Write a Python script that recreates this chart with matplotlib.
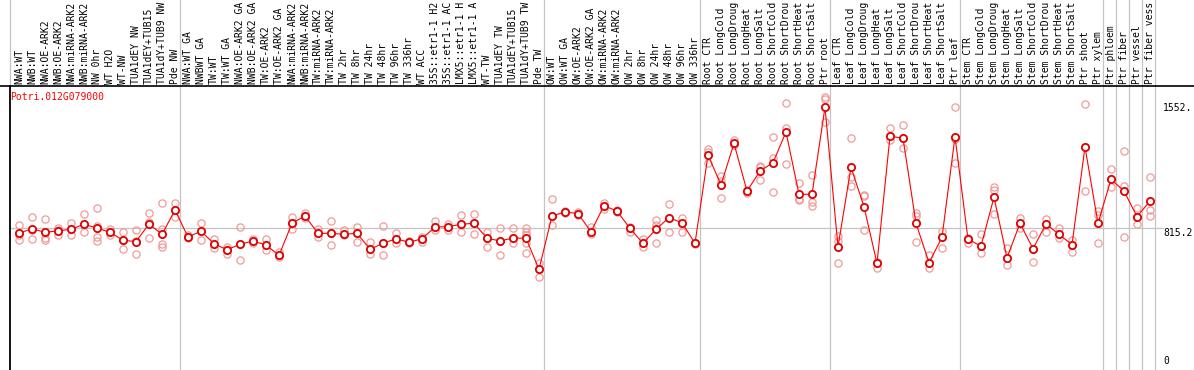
import matplotlib
matplotlib.use('Agg')
import matplotlib.pyplot as plt
from matplotlib.transforms import blended_transform_factory
from matplotlib.lines import Line2D

gene = "Potri.012G079000"

# labels as shown in the chart (truncated to 14 characters)
categories = [
    "NWA:WT", "NWB:WT", "NWA:OE-ARK2", "NWB:OE-ARK2", "NWA:miRNA-ARK2", "NWB:miRNA-ARK2",
    "NW 0hr", "WT H2O", "WT-NW", "TUA1dEY NW", "TUA1dEY+TUB15", "TUA1dY+TUB9 NW", "Pde NW",
    "NWA:WT GA", "NWBWT GA", "TW:WT", "TW:WT GA", "NWA:OE-ARK2 GA", "NWB:OE-ARK2 GA",
    "TW:OE-ARK2", "TW:OE-ARK2 GA", "NWA:miRNA-ARK2", "NWB:miRNA-ARK2", "TW:miRNA-ARK2",
    "TW:miRNA-ARK2", "TW 2hr", "TW 8hr", "TW 24hr", "TW 48hr", "TW 96hr", "TW 336hr",
    "WT ACC", "35S::etr1-1 H2", "35S::etr1-1 AC", "LMX5::etr1-1 H", "LMX5::etr1-1 A",
    "WT-TW", "TUA1dEY TW", "TUA1dEY+TUB15", "TUA1dY+TUB9 TW", "Pde TW",
    "OW:WT", "OW:WT GA", "OW:OE-ARK2", "OW:OE-ARK2 GA", "OW:miRNA-ARK2", "OW:miRNA-ARK2",
    "OW 2hr", "OW 8hr", "OW 24hr", "OW 48hr", "OW 96hr", "OW 336hr",
    "Root CTR", "Root LongCold", "Root LongDroug", "Root LongHeat", "Root LongSalt",
    "Root ShortCold", "Root ShortDrou", "Root ShortHeat", "Root ShortSalt", "Ptr root",
    "Leaf CTR", "Leaf LongCold", "Leaf LongDroug", "Leaf LongHeat", "Leaf LongSalt",
    "Leaf ShortCold", "Leaf ShortDrou", "Leaf ShortHeat", "Leaf ShortSalt", "Ptr leaf",
    "Stem CTR", "Stem LongCold", "Stem LongDroug", "Stem LongHeat", "Stem LongSalt",
    "Stem ShortCold", "Stem ShortDrou", "Stem ShortHeat", "Stem ShortSalt", "Ptr shoot",
    "Ptr xylem", "Ptr phloem", "Ptr fiber", "Ptr vessel", "Ptr fiber vess",
]

means = [
    782, 809, 788, 796, 806, 835, 813, 788, 741, 733, 837, 776, 919,
    760, 794, 721, 685, 717, 737, 713, 652, 841, 884, 782, 782, 776, 782, 688, 723, 750,
    729, 750, 819, 821, 835, 841, 753, 737, 754, 753, 570,
    884, 908, 898, 791, 945, 913, 811, 723, 806, 874, 844, 723,
    1243, 1067, 1312, 1031, 1149, 1198, 1379, 1012, 1012, 1525,
    703, 1171, 939, 605, 1355, 1342, 841, 609, 758, 1351,
    747, 707, 994, 638, 841, 691, 837, 776, 715, 1291, 841,
    1100, 1031, 880, 972,
]

replicates = [
    [831, 772, 743], [878, 799, 750], [864, 753, 743], [815, 801, 772], [841, 806, 772],
    [894, 835, 788], [931, 825, 762, 738], [806, 788, 772], [791, 743, 688], [803, 734, 660],
    [903, 850, 753], [962, 806, 719, 703], [962, 919, 876],
    [772, 760, 753], [844, 794, 743], [747, 721, 694], [703, 685, 660], [821, 717, 625],
    [747, 737, 723], [747, 713, 684], [674, 652, 644], [876, 841, 806], [900, 884, 872],
    [806, 782, 762], [853, 782, 711], [801, 776, 772], [817, 782, 729], [733, 688, 660],
    [825, 723, 654], [782, 750, 723], [738, 729, 723], [762, 750, 733], [856, 819, 801],
    [835, 821, 801], [890, 835, 791], [896, 841, 778], [791, 753, 699], [811, 737, 654],
    [811, 754, 723], [811, 791, 772, 723, 664], [605, 570, 526],
    [982, 884, 831], [915, 908, 900], [909, 898, 890], [821, 791, 778], [961, 945, 925],
    [919, 913, 908], [821, 811, 791], [747, 723, 703], [860, 831, 727], [953, 874, 788],
    [870, 844, 791], [727, 723, 717],
    [1277, 1263, 1198], [1120, 1092, 988], [1332, 1312, 1302], [1037, 1031, 1021],
    [1179, 1173, 1096], [1348, 1226, 1024], [1548, 1401, 1190], [1077, 982, 978],
    [1126, 968, 943], [1587, 1572, 1440],
    [766, 737, 609], [1342, 1116, 1061], [1010, 1000, 801], [615, 605, 576],
    [1401, 1355, 1332], [1420, 1342, 1283], [903, 884, 729], [654, 609, 576],
    [797, 758, 694], [1525, 1337, 1195],
    [753, 747, 727], [778, 707, 668], [1053, 1037, 894], [694, 638, 595], [874, 837, 812],
    [778, 691, 615], [864, 837, 791], [815, 776, 753], [743, 715, 674], [1544, 1291, 1031],
    [913, 890, 727],
    [1159, 1100, 1053], [1267, 1061, 762], [929, 880, 837], [1116, 919, 884],
]

# index of the last category of each group (separator drawn after it)
group_ends = [12, 40, 52, 62, 72, 83, 84, 85, 86, 87]

ytick_values = [1552, 815.2, 0]
ytick_labels = ["1552.", "815.2", "0"]

W, H = 1194, 370
TOP = 85.5
LEFT = 10
STEP = 13.0
X0 = 19.0

fig = plt.figure(figsize=(W / 100, H / 100), dpi=100)
ax = fig.add_axes([LEFT / W, 0, 1 - LEFT / W, 1 - TOP / H])
xl = (LEFT - X0) / STEP
xr = (W - X0) / STEP
ax.set_xlim(xl, xr)
ax.set_ylim(-23.6, 1653)
ax.set_xticks([])
ax.set_yticks([])
for s in ['top', 'right', 'bottom']:
    ax.spines[s].set_visible(False)
ax.spines['left'].set_color('black')
ax.spines['left'].set_linewidth(1.3)

fig.add_artist(Line2D([0, 1], [1 - TOP / H] * 2, transform=fig.transFigure,
                      color='black', lw=1.2))

ext = H / (H - TOP)
grey = '#c4c4c4'
for e in group_ends:
    ax.axvline(e + 0.4, ymin=0, ymax=ext, color=grey, lw=0.9, clip_on=False, zorder=0)
ax.axvline(xl + 0.02, ymin=1, ymax=ext, color=grey, lw=0.9, clip_on=False, zorder=0)

label_x_frac = (1163 - LEFT) / (W - LEFT)
ax.axhline(ytick_values[1], xmin=0, xmax=label_x_frac, color=grey, lw=0.9, zorder=0)

mono = 'DejaVu Sans Mono'
trans = blended_transform_factory(ax.transData, ax.transAxes)
for i, c in enumerate(categories):
    ax.text(i, 1 + 2.0 / (H - TOP), c, rotation=90, ha='center', va='bottom',
            fontsize=7, family=mono, transform=trans, clip_on=False)

tt = blended_transform_factory(ax.transAxes, ax.transData)
for v, lbl in zip(ytick_values, ytick_labels):
    ax.text(label_x_frac, v, lbl, ha='left', va='top' if v > 0 else 'bottom',
            fontsize=7, family=mono, transform=tt)

ax.text(0.0, 1 - 11.5 / (H - TOP), gene, transform=ax.transAxes, color='red',
        fontsize=7, family=mono, ha='left', va='center')

rx, ry = [], []
for i, reps in enumerate(replicates):
    for r in reps:
        rx.append(i)
        ry.append(r)
ax.plot(rx, ry, linestyle='none', marker='o', markersize=5.2, markerfacecolor='none',
        markeredgecolor='#f09a9a', markeredgewidth=0.9, zorder=2)

xs = list(range(len(means)))
ax.plot(xs, means, color='#ff0000', lw=0.8, zorder=3)
ax.plot(xs, means, linestyle='none', marker='o', markersize=5.2, markerfacecolor='white',
        markeredgecolor='#e00000', markeredgewidth=1.3, zorder=4)

fig.savefig('out.png', dpi=100)
